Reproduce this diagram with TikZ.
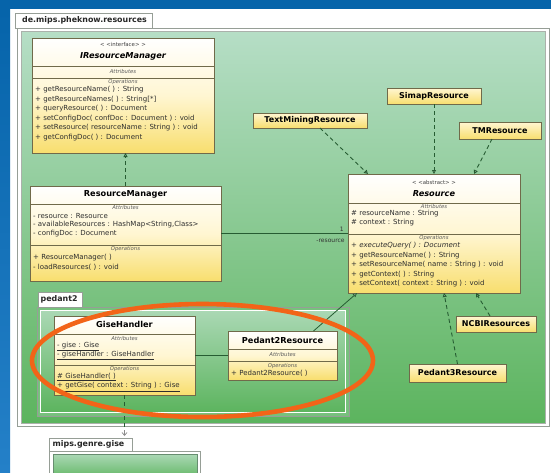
\documentclass[tikz,border=0pt]{standalone}
\usepackage{fontspec}
\setmainfont{DejaVu Sans}
\usetikzlibrary{arrows.meta,shadows}

\definecolor{bgblue}{RGB}{6,100,170}
\definecolor{bgblue2}{RGB}{36,128,200}
\definecolor{pkgtop}{RGB}{182,222,198}
\definecolor{pkgbot}{RGB}{92,180,94}
\definecolor{pkgedge}{RGB}{150,158,150}
\definecolor{innertop}{RGB}{170,216,180}
\definecolor{boxedge}{RGB}{112,106,74}
\definecolor{boxmid}{RGB}{255,246,210}
\definecolor{boxbot}{RGB}{248,222,110}
\definecolor{linkgreen}{RGB}{38,92,50}
\definecolor{ringorange}{RGB}{242,100,24}

\tikzset{
  classbox/.style={draw=boxedge, line width=0.7pt, top color=white, bottom color=boxbot,
    middle color=boxmid, inner sep=0pt, outer sep=0pt, anchor=north west},
  smallbox/.style={draw=boxedge, line width=0.7pt, top color=boxmid, bottom color=boxbot,
    inner sep=0pt, outer sep=0pt, anchor=north west,
    font=\fontsize{8}{9}\selectfont\bfseries,
    drop shadow={shadow xshift=1pt, shadow yshift=-1pt, opacity=0.35}},
  sep/.style={draw=boxedge, line width=0.6pt},
  member/.style={anchor=west, inner sep=0pt, font=\fontsize{7}{8}\selectfont, text=black!82},
  caption/.style={inner sep=0pt, font=\fontsize{5.3}{6}\selectfont\itshape, text=black!65},
  stereo/.style={inner sep=0pt, font=\fontsize{5.4}{6}\selectfont, text=black!75},
  title/.style={inner sep=0pt, font=\fontsize{8.2}{9}\selectfont\bfseries},
  tabtext/.style={inner sep=0pt, font=\fontsize{7.9}{9}\selectfont\bfseries, text=black!85},
  pkgtab/.style={draw=pkgedge, fill=white, line width=0.6pt},
  dashlink/.style={draw=linkgreen, line width=0.9pt, dash pattern=on 4pt off 3pt},
  solidlink/.style={draw=linkgreen, line width=0.8pt},
  hollowtip/.style={-{Triangle[length=4pt, width=4pt, fill=white]}},
  roletext/.style={inner sep=0pt, font=\fontsize{6}{7}\selectfont, text=black!80},
}

\begin{document}
\begin{tikzpicture}[x=1pt, y=-1pt]
\useasboundingbox (0,0) rectangle (551,472);

% window background
\fill[bgblue] (0,0) rectangle (551,472);
\fill[white] (10,9) rectangle (551,472);
\shade[top color=bgblue, bottom color=bgblue2] (0,9) rectangle (10,472);

% package de.mips.pheknow.resources
\draw[pkgtab] (15,13) rectangle (152,28);
\node[tabtext, anchor=west] (pkgname) at (22,20.5) {de.mips.pheknow.resources};
\draw[draw=pkgedge, fill=white, line width=0.6pt] (17,28) rectangle (549,426);
\shade[top color=pkgtop, bottom color=pkgbot, draw=pkgedge!80, line width=0.4pt]
  (21,31) rectangle (545,423);

% package pedant2
\draw[pkgtab] (38,292) rectangle (82,307);
\node[tabtext, anchor=west] (p2name) at (40.5,299.5) {pedant2};
\draw[draw=pkgedge, fill=pkgbot!70!pkgtop, line width=0.6pt] (37,307) rectangle (349,416);
\shade[top color=innertop, bottom color=pkgbot, draw=white, line width=1.2pt]
  (40.5,310.5) rectangle (345.5,412.5);

% package mips.genre.gise
\draw[pkgtab] (49,438) rectangle (132,451);
\node[tabtext, anchor=west] (ggname) at (52.5,444.5) {mips.genre.gise};
\draw[draw=pkgedge, fill=white, line width=0.6pt] (49,451) rectangle (200,480);
\shade[top color=innertop, bottom color=pkgbot, draw=linkgreen!70, line width=0.5pt]
  (53,454.5) rectangle (197,480);

% ---------------- IResourceManager ----------------
\node[classbox, minimum width=182pt, minimum height=115pt] (irm) at (32,38) {};
\draw[sep] ([yshift=-28pt]irm.north west) -- ([yshift=-28pt]irm.north east);
\draw[sep] ([yshift=-40pt]irm.north west) -- ([yshift=-40pt]irm.north east);
\node[stereo] (irm-st) at (123,44) {< <interface> >};
\node[title, font=\fontsize{8.2}{9}\selectfont\bfseries\itshape] (irm-t) at (123,56.5) {IResourceManager};
\node[caption] (irm-at) at (123,71.5) {Attributes};
\node[caption] (irm-op) at (123,82) {Operations};
\node[member] (irm-o1) at (35,90) {+ getResourceName( ) : String};
\node[member] (irm-o2) at (35,99.3) {+ getResourceNames( ) : String[*]};
\node[member] (irm-o3) at (35,109) {+ queryResource( ) : Document};
\node[member] (irm-o4) at (35,118.3) {+ setConfigDoc( confDoc : Document ) : void};
\node[member] (irm-o5) at (35,128) {+ setResource( resourceName : String ) : void};
\node[member] (irm-o6) at (35,137.3) {+ getConfigDoc( ) : Document};

% ---------------- ResourceManager ----------------
\node[classbox, minimum width=191pt, minimum height=95pt] (rm) at (30,186) {};
\draw[sep] ([yshift=-18pt]rm.north west) -- ([yshift=-18pt]rm.north east);
\draw[sep] ([yshift=-59pt]rm.north west) -- ([yshift=-59pt]rm.north east);
\node[title] (rm-t) at (125.5,194.5) {ResourceManager};
\node[caption] (rm-at) at (125.5,208) {Attributes};
\node[member] (rm-a1) at (33,216) {- resource : Resource};
\node[member] (rm-a2) at (33,225) {- availableResources : HashMap<String,Class>};
\node[member] (rm-a3) at (33,234) {- configDoc : Document};
\node[caption] (rm-op) at (125.5,249.5) {Operations};
\node[member] (rm-o1) at (33,257.5) {+ ResourceManager( )};
\node[member] (rm-o2) at (33,267) {- loadResources( ) : void};

% ---------------- Resource ----------------
\node[classbox, minimum width=172pt, minimum height=119pt] (res) at (348,174) {};
\draw[sep] ([yshift=-29pt]res.north west) -- ([yshift=-29pt]res.north east);
\draw[sep] ([yshift=-60pt]res.north west) -- ([yshift=-60pt]res.north east);
\node[stereo] (res-st) at (434,182) {< <abstract> >};
\node[title, font=\fontsize{8.2}{9}\selectfont\bfseries\itshape] (res-t) at (434,193.5) {Resource};
\node[caption] (res-at) at (434,207) {Attributes};
\node[member] (res-a1) at (351,214) {\# resourceName : String};
\node[member] (res-a2) at (351,223) {\# context : String};
\node[caption] (res-op) at (434,238) {Operations};
\node[member, font=\fontsize{7}{8}\selectfont\itshape] (res-o1) at (351,245.5) {+ executeQuery( ) : Document};
\node[member] (res-o2) at (351,256) {+ getResourceName( ) : String};
\node[member] (res-o3) at (351,265) {+ setResourceName( name : String ) : void};
\node[member] (res-o4) at (351,275) {+ getContext( ) : String};
\node[member] (res-o5) at (351,284) {+ setContext( context : String ) : void};

% ---------------- GiseHandler ----------------
\node[classbox, minimum width=141pt, minimum height=79pt] (gh) at (54,316) {};
\draw[sep] ([yshift=-18pt]gh.north west) -- ([yshift=-18pt]gh.north east);
\draw[sep] ([yshift=-49pt]gh.north west) -- ([yshift=-49pt]gh.north east);
\node[title] (gh-t) at (124.5,324.5) {GiseHandler};
\node[caption] (gh-at) at (124.5,339) {Attributes};
\node[member] (gh-a1) at (57,346.5) {\underline{- gise : Gise}};
\node[member] (gh-a2) at (57,355.5) {\underline{- giseHandler : GiseHandler}};
\node[caption] (gh-op) at (124.5,369.5) {Operations};
\node[member] (gh-o1) at (57,377) {\underline{\# GiseHandler( )}};
\node[member] (gh-o2) at (57,387) {\underline{+ getGise( context : String ) : Gise}};

% ---------------- Pedant2Resource ----------------
\node[classbox, minimum width=109pt, minimum height=49pt] (p2r) at (228,331) {};
\draw[sep] ([yshift=-18pt]p2r.north west) -- ([yshift=-18pt]p2r.north east);
\draw[sep] ([yshift=-30pt]p2r.north west) -- ([yshift=-30pt]p2r.north east);
\node[title] (p2r-t) at (282.5,340) {Pedant2Resource};
\node[caption] (p2r-at) at (282.5,355) {Attributes};
\node[caption] (p2r-op) at (282.5,366) {Operations};
\node[member] (p2r-o1) at (231,373.5) {+ Pedant2Resource( )};

% ---------------- small classes ----------------
\node[smallbox, minimum width=114pt, minimum height=15pt] (tmr) at (253,113) {TextMiningResource};
\node[smallbox, minimum width=94pt, minimum height=16pt] (simap) at (387,88) {SimapResource};
\node[smallbox, minimum width=82pt, minimum height=17pt] (tm) at (459,122) {TMResource};
\node[smallbox, minimum width=80pt, minimum height=16pt] (ncbi) at (456,316) {NCBIResources};
\node[smallbox, minimum width=97pt, minimum height=18pt] (p3) at (409,364) {Pedant3Resource};

% ---------------- connectors ----------------
\draw[dashlink, hollowtip] (rm.north) -- (rm.north |- irm.south);
\draw[solidlink] (rm.east) -- (rm.east -| res.west)
  node[roletext, pos=1, anchor=south east, xshift=-4pt, yshift=2pt] (mult) {1}
  node[roletext, pos=1, anchor=north east, xshift=-3pt, yshift=-5pt] (role) {-resource};
\draw[dashlink, hollowtip] ([xshift=10pt]tmr.south) -- ([xshift=20pt]res.north west);
\draw[dashlink, hollowtip] (simap.south) -- (simap.south |- res.north);
\draw[dashlink, hollowtip] ([xshift=-8pt]tm.south) -- ([xshift=40pt]res.north);
\draw[dashlink, hollowtip] ([xshift=-6pt]ncbi.north) -- ([xshift=42pt]res.south);
\draw[dashlink, hollowtip] (p3.north) -- ([xshift=10pt]res.south);
\draw[solidlink, hollowtip] ([xshift=31pt]p2r.north) -- ([xshift=9pt]res.south west);
\draw[solidlink] (gh.east) -- (gh.east -| p2r.west);
\coordinate (ggtop) at (gh.south |- 0,436);
\draw[dashlink] (gh.south) -- ([yshift=2pt]ggtop);
\draw[draw=black!45, line width=0.7pt, -{Straight Barb[length=3pt, width=5pt]}] ([yshift=6pt]ggtop) -- (ggtop);

% highlight ring
\draw[ringorange, line width=4.6pt] (202.5,360.5) ellipse [x radius=170.5pt, y radius=56.5pt];
\end{tikzpicture}
\end{document}
